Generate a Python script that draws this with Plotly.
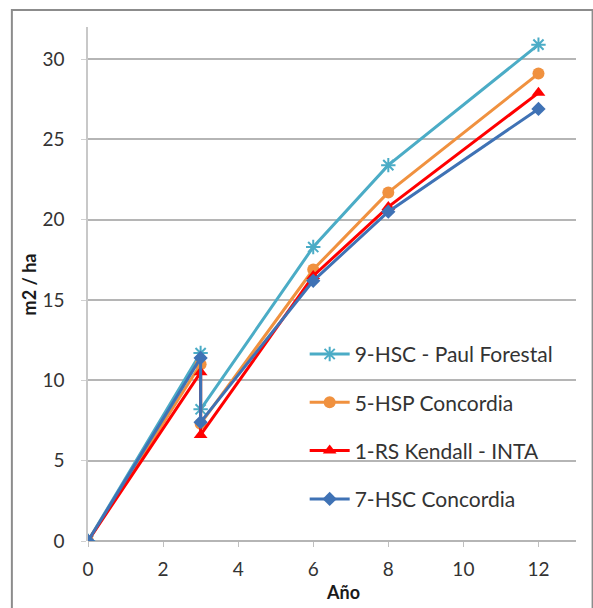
import plotly.graph_objects as go

# Age (years); year 3 has two measurements
anios = [0, 3, 3, 6, 8, 12]

paul_forestal_9hsc = [0, 11.7, 8.2, 18.3, 23.4, 30.9]
concordia_5hsp = [0, 11.0, 7.3, 16.9, 21.7, 29.1]
kendall_inta_1rs = [0, 10.5, 6.6, 16.5, 20.8, 27.9]
concordia_7hsc = [0, 11.4, 7.4, 16.2, 20.5, 26.9]

nombres = ["9-HSC - Paul Forestal", "5-HSP Concordia", "1-RS Kendall - INTA", "7-HSC Concordia"]
series = [paul_forestal_9hsc, concordia_5hsp, kendall_inta_1rs, concordia_7hsc]
colores = ["#4bacc6", "#f0913f", "#ff0000", "#3f72b5"]
simbolos = ["asterisk-open", "circle", "triangle-up", "diamond"]
tamanos = [12, 12, 12, 11]

fig = go.Figure()
for i, (nombre, valores, color, simbolo, tam) in enumerate(zip(nombres, series, colores, simbolos, tamanos)):
    fig.add_trace(go.Scatter(
        x=anios, y=valores, name=nombre, mode="lines+markers", legendgroup=f"g{i}",
        line=dict(color=color, width=3),
        marker=dict(symbol=simbolo, size=tam, color=color,
                    line=dict(color=color, width=2 if simbolo == "asterisk-open" else 0)),
    ))

fuente = "Lato"
fig.update_layout(
    width=593, height=608,
    margin=dict(l=88, r=17, t=27, b=67),
    paper_bgcolor="white", plot_bgcolor="white",
    font=dict(family=fuente, size=19, color="#333333"),
    showlegend=True,
    legend=dict(x=0.444, y=0.403, xanchor="left", yanchor="top",
                bgcolor="rgba(255,255,255,0)", font=dict(size=21, color="#333333"),
                tracegroupgap=18, itemwidth=40),
    xaxis=dict(range=[0, 13], tickvals=[0, 2, 4, 6, 8, 10, 12], showgrid=False,
               zeroline=False, showline=False, ticks="outside", ticklen=5,
               tickcolor="#bfbfbf", ticklabelstandoff=6, fixedrange=True),
    yaxis=dict(range=[0, 32], tickvals=[0, 5, 10, 15, 20, 25, 30], showgrid=True,
               gridcolor="#b5b5b5", gridwidth=1.5, zeroline=True, zerolinecolor="#b5b5b5",
               zerolinewidth=1.5, showline=True, linecolor="#c8c8c8", linewidth=1.5,
               ticks="outside", ticklen=5, tickcolor="#d0d0d0", ticklabelstandoff=13,
               fixedrange=True),
    shapes=[dict(type="rect", xref="paper", yref="paper", x0=-0.156, x1=1.034,
                 y0=-0.2, y1=1.033, line=dict(color="#8c8c8c", width=2))],
    annotations=[
        dict(text="<b>m2 / ha</b>", xref="paper", yref="paper", x=-0.12, y=0.5,
             xanchor="center", yanchor="middle",
             textangle=-90, showarrow=False, font=dict(size=18, color="#1a1a1a")),
        dict(text="<b>Año</b>", xref="paper", yref="paper", x=0.523, y=-0.1,
             xanchor="center", yanchor="middle",
             showarrow=False, font=dict(size=18, color="#1a1a1a")),
    ],
)

fig.write_html("out.html")
